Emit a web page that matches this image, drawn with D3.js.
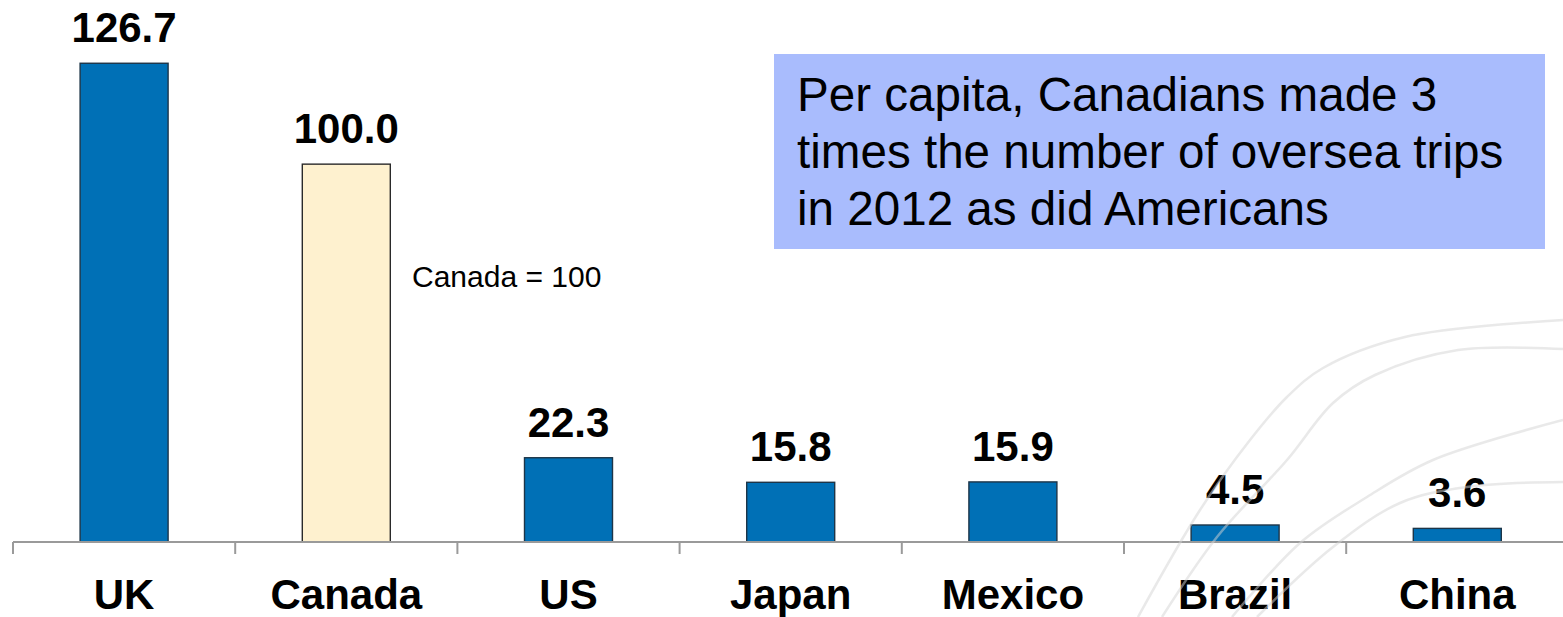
<!DOCTYPE html>
<html>
<head>
<meta charset="utf-8">
<script src="https://cdn.jsdelivr.net/npm/d3@7"></script>
<style>
  html, body { margin: 0; padding: 0; background: #fff; }
  svg { display: block; font-family: Arial, "Liberation Sans", sans-serif; }
</style>
</head>
<body>
<svg id="chart" width="1563" height="617"></svg>
<script>
// Outbound overseas trips per capita, indexed to Canada = 100
const countries = ["UK", "Canada", "US", "Japan", "Mexico", "Brazil", "China"];
const tripIndex = [126.7, 100.0, 22.3, 15.8, 15.9, 4.5, 3.6];
const highlighted = ["Canada"];
const calloutLines = [
  "Per capita, Canadians made 3",
  "times the number of oversea trips",
  "in 2012 as did Americans"
];
const baseNote = "Canada = 100";

const W = 1563, H = 617;
const baseY = 542;
const svg = d3.select("#chart");

const x = d3.scaleBand()
  .domain(countries)
  .range([13, 13 + 7 * 222.2])
  .paddingInner(0)
  .paddingOuter(0);

const y = d3.scaleLinear()
  .domain([0, 140])
  .range([baseY, 13]);

const barW = 88;
const rows = countries.map((c, i) => ({ country: c, value: tripIndex[i] }));

// bars
svg.append("g")
  .selectAll("rect")
  .data(rows)
  .join("rect")
  .attr("x", d => x(d.country) + x.bandwidth() / 2 - barW / 2)
  .attr("y", d => y(d.value))
  .attr("width", barW)
  .attr("height", d => y(0) - y(d.value))
  .attr("fill", d => highlighted.includes(d.country) ? "#fef1cf" : "#0070b6")
  .attr("stroke", d => highlighted.includes(d.country) ? "#2a2a2a" : "#1d3548")
  .attr("stroke-width", 1.4);

// category axis along the baseline
const axis = d3.axisBottom(x).tickSize(0).tickFormat("");
const gAxis = svg.append("g").attr("transform", `translate(0,${baseY})`).call(axis);
gAxis.select(".domain").remove();
gAxis.append("line")
  .attr("x1", 13).attr("x2", W).attr("y1", 0).attr("y2", 0)
  .attr("stroke", "#9a9a9a").attr("stroke-width", 2);
const boundaries = countries.map(c => x(c));
gAxis.selectAll("line.sep")
  .data(boundaries)
  .join("line")
  .attr("class", "sep")
  .attr("x1", d => d).attr("x2", d => d)
  .attr("y1", 0).attr("y2", 12)
  .attr("stroke", "#9a9a9a").attr("stroke-width", 2);

// category labels
svg.append("g")
  .selectAll("text")
  .data(countries)
  .join("text")
  .attr("x", d => x(d) + x.bandwidth() / 2)
  .attr("y", 609)
  .attr("text-anchor", "middle")
  .attr("font-size", 42)
  .attr("font-weight", "bold")
  .attr("fill", "#000")
  .text(d => d);

// value labels
svg.append("g")
  .selectAll("text")
  .data(rows)
  .join("text")
  .attr("x", d => x(d.country) + x.bandwidth() / 2)
  .attr("y", d => y(d.value) - 21)
  .attr("text-anchor", "middle")
  .attr("font-size", 42)
  .attr("font-weight", "bold")
  .attr("fill", "#000")
  .text(d => d.value.toFixed(1));

// base note beside the Canada bar
svg.append("text")
  .attr("x", 412)
  .attr("y", 287)
  .attr("font-size", 30)
  .attr("fill", "#000")
  .text(baseNote);

// callout box
svg.append("rect")
  .attr("x", 774).attr("y", 54)
  .attr("width", 771).attr("height", 195)
  .attr("fill", "#a9bcfd");
svg.append("g")
  .selectAll("text")
  .data(calloutLines)
  .join("text")
  .attr("x", 797)
  .attr("y", (d, i) => 111 + i * 57)
  .attr("font-size", 47.6)
  .attr("fill", "#000")
  .text(d => d);

// faint decorative sweeps in the lower right corner
const sweeps = [
  [[1138, 617], [1200, 510], [1250, 440], [1287, 397], [1323, 368], [1405, 337], [1563, 320]],
  [[1162, 617], [1217, 537], [1287, 460], [1333, 403], [1375, 375], [1458, 350], [1563, 349]],
  [[1232, 617], [1300, 543], [1367, 497], [1433, 460], [1563, 420]],
  [[1257, 617], [1333, 547], [1400, 503], [1467, 487], [1563, 482]]
];
const sweepLine = d3.line().curve(d3.curveCatmullRom.alpha(0.5));
svg.append("g")
  .selectAll("path")
  .data(sweeps)
  .join("path")
  .attr("d", sweepLine)
  .attr("fill", "none")
  .attr("stroke", "#d4d4d4")
  .attr("stroke-opacity", 0.5)
  .attr("stroke-width", 2.5);
</script>
</body>
</html>
